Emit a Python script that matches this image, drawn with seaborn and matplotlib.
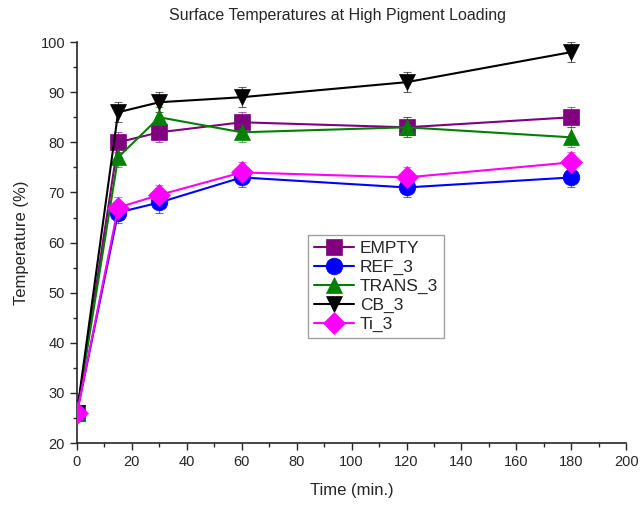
import matplotlib
matplotlib.use("Agg")
import matplotlib.pyplot as plt
import seaborn as sns
import pandas as pd
from matplotlib.ticker import MultipleLocator

time_min = [0, 15, 30, 60, 120, 180]
empty = [26, 80, 82, 84, 83, 85]
ref_3 = [26, 66, 68, 73, 71, 73]
trans_3 = [26, 77, 85, 82, 83, 81]
cb_3 = [26, 86, 88, 89, 92, 98]
ti_3 = [26, 67, 69.5, 74, 73, 76]
err = [1.0, 2.0, 2.0, 2.0, 2.0, 2.0]

series_names = ["EMPTY", "REF_3", "TRANS_3", "CB_3", "Ti_3"]
series_values = [empty, ref_3, trans_3, cb_3, ti_3]
colors = ["#800080", "#0000FF", "#008000", "#000000", "#FF00FF"]
markers = ["s", "o", "^", "v", "D"]
msizes = [11, 12, 12, 12, 11]

sns.set_style("ticks")
plt.rcParams["font.family"] = ["Liberation Sans", "DejaVu Sans"]

fig = plt.figure(figsize=(6.41, 5.07), dpi=100)
ax = fig.add_axes([0.12, 0.126, 0.857, 0.791])

for name, vals, c, m, ms in zip(series_names, series_values, colors, markers, msizes):
    df = pd.DataFrame({"t": time_min, "v": vals})
    ax.errorbar(df["t"], df["v"], yerr=err, fmt="none", ecolor=c,
                elinewidth=0.8, capsize=3, capthick=0.8, alpha=0.6, zorder=2)
    sns.lineplot(data=df, x="t", y="v", ax=ax, color=c, marker=m,
                 markersize=ms, markeredgewidth=0.5, markeredgecolor=c,
                 linewidth=1.5, label=name, zorder=3)

ax.set_xlim(0, 200)
ax.set_ylim(20, 100)
ax.xaxis.set_major_locator(MultipleLocator(20))
ax.xaxis.set_minor_locator(MultipleLocator(10))
ax.yaxis.set_major_locator(MultipleLocator(10))
ax.yaxis.set_minor_locator(MultipleLocator(5))
ax.tick_params(which="major", length=5, width=1, labelsize=10.5, direction="out")
ax.tick_params(which="minor", length=3, width=1, direction="out")
for s in ["top", "right"]:
    ax.spines[s].set_visible(False)
for s in ["left", "bottom"]:
    ax.spines[s].set_linewidth(1.2)

ax.set_xlabel("Time (min.)", fontsize=12, labelpad=10)
ax.set_ylabel("Temperature (%)", fontsize=12, labelpad=8)
fig.suptitle("Surface Temperatures at High Pigment Loading", fontsize=11.5,
             x=0.527, y=0.985)

leg = ax.legend(loc="upper left", bbox_to_anchor=(0.42, 0.52), frameon=True,
                fancybox=False, edgecolor="#888888", fontsize=12.5,
                handlelength=2.3, borderpad=0.35, labelspacing=0.22,
                handletextpad=0.35, borderaxespad=0)
leg.get_frame().set_linewidth(1.0)
leg.set_zorder(10)

fig.savefig("out.png", dpi=100)
